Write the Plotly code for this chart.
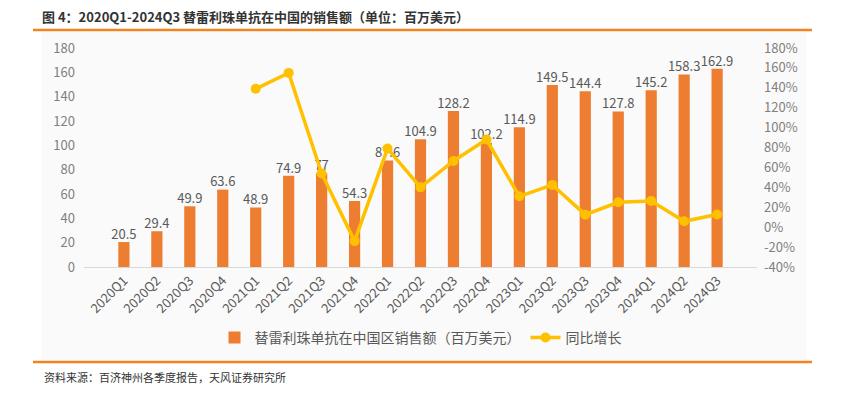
import plotly.graph_objects as go

categories = ["2020Q1","2020Q2","2020Q3","2020Q4","2021Q1","2021Q2","2021Q3","2021Q4",
              "2022Q1","2022Q2","2022Q3","2022Q4","2023Q1","2023Q2","2023Q3","2023Q4",
              "2024Q1","2024Q2","2024Q3"]
sales = [20.5, 29.4, 49.9, 63.6, 48.9, 74.9, 77, 54.3, 87.6, 104.9, 128.2, 102.2,
         114.9, 149.5, 144.4, 127.8, 145.2, 158.3, 162.9]
yoy = [None, None, None, None, 1.39, 1.55, 0.54, -0.14, 0.79, 0.40, 0.665, 0.88,
       0.31, 0.425, 0.126, 0.25, 0.264, 0.059, 0.128]
left_ticks = [0, 20, 40, 60, 80, 100, 120, 140, 160, 180]
right_ticks = [-0.4, -0.2, 0, 0.2, 0.4, 0.6, 0.8, 1.0, 1.2, 1.4, 1.6, 1.8]
right_labels = ["-40%", "-20%", "0%", "20%", "40%", "60%", "80%", "100%", "120%", "140%", "160%", "180%"]

FONT = "Noto Sans CJK SC"
GRAY = "#7f7f7f"

fig = go.Figure()
fig.add_trace(go.Bar(
    x=categories, y=sales, name="替雷利珠单抗在中国区销售额（百万美元）",
    marker=dict(color="#ED7D31", line=dict(width=0)),
    width=0.34,
))
fig.add_trace(go.Scatter(
    x=categories, y=yoy, name="同比增长", yaxis="y2",
    mode="lines+markers", line=dict(color="#FFC000", width=3.5),
    marker=dict(color="#FFC000", size=10), connectgaps=False,
))
fig.add_trace(go.Scatter(
    x=categories, y=sales, mode="text", showlegend=False, hoverinfo="skip",
    text=[f"{v:g}" for v in sales], textposition="top center", cliponaxis=False,
    textfont=dict(color="#595959", size=13, family=FONT),
))

fig.update_layout(
    width=841, height=396,
    margin=dict(l=84, r=84, t=48, b=129),
    paper_bgcolor="white", plot_bgcolor="rgba(0,0,0,0)",
    font=dict(family=FONT, color=GRAY, size=13),
    showlegend=True,
    legend=dict(orientation="h", x=0.5, xanchor="center", y=-0.324, yanchor="middle",
                font=dict(size=14, color="#595959", family=FONT), bgcolor="rgba(0,0,0,0)",
                itemwidth=30),
    xaxis=dict(tickangle=-45, showgrid=False, showline=True, linecolor="#d9d9d9",
               tickfont=dict(size=13, color="#595959"), ticks="", automargin=False),
    yaxis=dict(range=[0, 180], tickvals=left_ticks, showgrid=False, zeroline=False,
               tickfont=dict(size=13, color=GRAY), ticks="", ticklabelstandoff=8,
               automargin=False),
    yaxis2=dict(range=[-0.4, 1.8], tickvals=right_ticks, ticktext=right_labels,
                overlaying="y", side="right", showgrid=False, zeroline=False,
                tickfont=dict(size=13, color=GRAY), ticks="", ticklabelstandoff=6,
                automargin=False),
    bargap=0.66,
)

fig.add_shape(type="rect", xref="paper", yref="paper", layer="below",
              x0=(42-84)/673, x1=(806-84)/673, y0=(267-360)/219, y1=(267-32)/219,
              fillcolor="#fafafa", line=dict(width=0))
fig.add_shape(type="line", xref="paper", yref="paper",
              x0=(33-84)/673, x1=(812-84)/673, y0=(267-30)/219, y1=(267-30)/219,
              line=dict(color="#F08421", width=2.5))
fig.add_shape(type="line", xref="paper", yref="paper",
              x0=(33-84)/673, x1=(812-84)/673, y0=(267-362)/219, y1=(267-362)/219,
              line=dict(color="#F08421", width=2.5))
fig.add_annotation(xref="paper", yref="paper", x=(40-84)/673, y=(267-16)/219,
                   xanchor="left", yanchor="middle", showarrow=False,
                   text="<b>图 4：2020Q1-2024Q3 替雷利珠单抗在中国的销售额（单位：百万美元）</b>",
                   font=dict(size=13, color="#333333", family=FONT))
fig.add_annotation(xref="paper", yref="paper", x=(42-84)/673, y=(267-377)/219,
                   xanchor="left", yanchor="middle", showarrow=False,
                   text="资料来源：百济神州各季度报告，天风证券研究所",
                   font=dict(size=11, color="#333333", family=FONT))

fig.write_html("out.html", config={"displayModeBar": False},
               post_script="document.body.style.margin='0';")
